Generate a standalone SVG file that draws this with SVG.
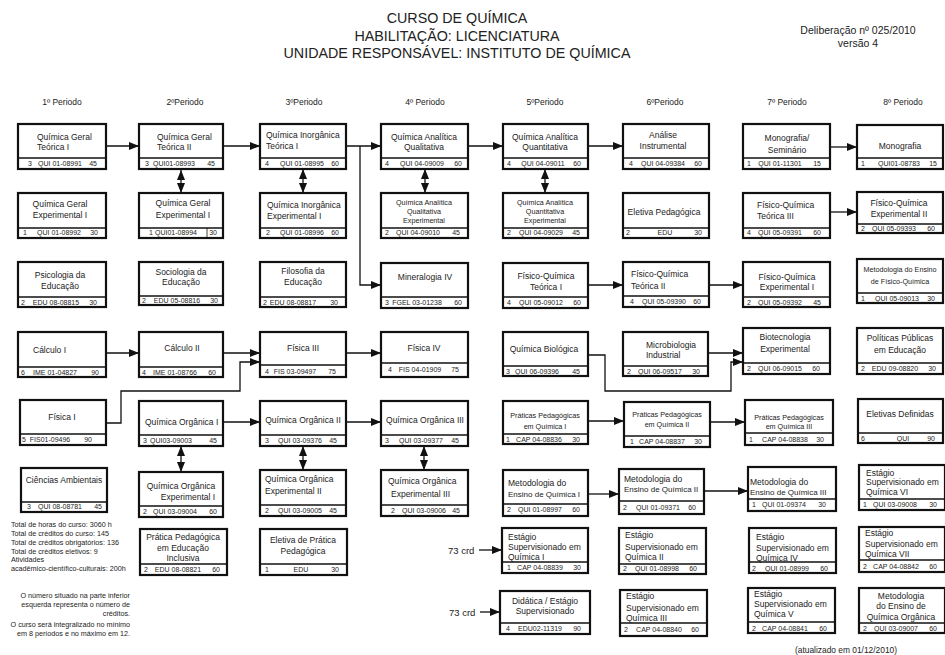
<svg xmlns="http://www.w3.org/2000/svg" width="945" height="655" viewBox="0 0 945 655">
<defs>
<style>
.bx{fill:#fff;stroke:#111;stroke-width:2.2}
.sp{stroke:#111;stroke-width:1.3}
text{font-family:"Liberation Sans",Arial,sans-serif;fill:#222}
.t{font-size:8.5px}
.n{font-size:8px}
.s{font-size:7.2px}
.c{font-size:7px}
.h{font-size:14.3px;text-anchor:middle}
.p{font-size:8.5px;text-anchor:middle}
.i{font-size:7.2px}
.m{text-anchor:middle}
.e{text-anchor:end}
.cn path{fill:none;stroke:#111;stroke-width:1.3}
</style>
<marker id="ah" viewBox="0 0 10 8" refX="10" refY="4" markerWidth="10" markerHeight="8" orient="auto-start-reverse" markerUnits="userSpaceOnUse"><path d="M0,0 L10,4 L0,8 z" fill="#111"/></marker>
</defs>
<rect width="945" height="655" fill="#fff"/>

<g id="header">
<text class="h" x="457" y="23">CURSO DE QUÍMICA</text>
<text class="h" x="457" y="41">HABILITAÇÃO: LICENCIATURA</text>
<text class="h" x="457" y="58">UNIDADE RESPONSÁVEL: INSTITUTO DE QUÍMICA</text>
<text x="858" y="34" style="font-size:10.5px" class="m">Deliberação nº 025/2010</text>
<text x="858" y="47" style="font-size:10.5px" class="m">versão 4</text>
</g>

<g id="periods">
<text class="p" x="62" y="105">1º Periodo</text>
<text class="p" x="185" y="105">2ºPeriodo</text>
<text class="p" x="304" y="105">3ºPeriodo</text>
<text class="p" x="425" y="105">4º Periodo</text>
<text class="p" x="545" y="105">5ºPeriodo</text>
<text class="p" x="665" y="105">6ºPeriodo</text>
<text class="p" x="787" y="105">7º Periodo</text>
<text class="p" x="903" y="105">8º Periodo</text>
</g>

<g id="connectors" class="cn">
<path d="M106,146 H139" marker-end="url(#ah)"/>
<path d="M223,146 H260" marker-end="url(#ah)"/>
<path d="M181,170 V193" marker-start="url(#ah)" marker-end="url(#ah)"/>
<path d="M346,146 H381" marker-end="url(#ah)"/>
<path d="M360,146 V285 H381" marker-end="url(#ah)"/>
<path d="M303,169 V193" marker-start="url(#ah)" marker-end="url(#ah)"/>
<path d="M468,146 H503" marker-end="url(#ah)"/>
<path d="M425,169 V193" marker-start="url(#ah)" marker-end="url(#ah)"/>
<path d="M588,146 H623" marker-end="url(#ah)"/>
<path d="M545,169 V193" marker-start="url(#ah)" marker-end="url(#ah)"/>
<path d="M830,147 H857" marker-end="url(#ah)"/>
<path d="M830,212 H857" marker-end="url(#ah)"/>
<path d="M588,285 H623" marker-end="url(#ah)"/>
<path d="M709,285 H743" marker-end="url(#ah)"/>
<path d="M106,353 H139" marker-end="url(#ah)"/>
<path d="M223,353 H260" marker-end="url(#ah)"/>
<path d="M106,423 H121 V391 H240 V362 H260" marker-end="url(#ah)"/>
<path d="M346,353 H381" marker-end="url(#ah)"/>
<path d="M223,422 H260" marker-end="url(#ah)"/>
<path d="M346,422 H381" marker-end="url(#ah)"/>
<path d="M181,446 V472" marker-start="url(#ah)" marker-end="url(#ah)"/>
<path d="M303,446 V470" marker-start="url(#ah)" marker-end="url(#ah)"/>
<path d="M424,446 V470" marker-start="url(#ah)" marker-end="url(#ah)"/>
<path d="M708,353 H743" marker-end="url(#ah)"/>
<path d="M588,355 H605 V391 H731 V362 H743" marker-end="url(#ah)"/>
<path d="M588,421 H624" marker-end="url(#ah)"/>
<path d="M710,422 H745" marker-end="url(#ah)"/>
<path d="M588,494 H619" marker-end="url(#ah)"/>
<path d="M704,491 H748" marker-end="url(#ah)"/>
<path d="M479,550 H502" marker-end="url(#ah)"/>
<path d="M480,612 H500" marker-end="url(#ah)"/>
</g>

<!-- Column 1 -->
<g id="qgt1"><rect class="bx" x="18" y="124" width="88" height="45"/><line class="sp" x1="18" y1="158" x2="106" y2="158"/>
<text class="t" x="37" y="140">Química Geral</text><text class="t" x="37" y="150">Teórica I</text>
<text class="c" x="28" y="165.5">3</text><text class="c m" x="60" y="165.5">QUI 01-08991</text><text class="c e" x="97" y="165.5">45</text></g>
<g id="qge1"><rect class="bx" x="18" y="193" width="88" height="45"/><line class="sp" x1="18" y1="228" x2="106" y2="228"/>
<text class="t m" x="60" y="207">Química Geral</text><text class="t m" x="60" y="218">Experimental I</text>
<text class="c" x="23" y="234.5">1</text><text class="c m" x="59" y="234.5">QUI 01-08992</text><text class="c e" x="98" y="234.5">30</text></g>
<g id="psico"><rect class="bx" x="18" y="262" width="88" height="45"/><line class="sp" x1="18" y1="297" x2="106" y2="297"/>
<text class="t m" x="60" y="278">Psicologia da</text><text class="t m" x="60" y="289">Educação</text>
<text class="c" x="21" y="304.5">2</text><text class="c m" x="56" y="304.5">EDU 08-08815</text><text class="c e" x="97" y="304.5">30</text></g>
<g id="calc1"><rect class="bx" x="18" y="332" width="88" height="45"/><line class="sp" x1="18" y1="367" x2="106" y2="367"/>
<text class="t" x="33" y="353">Cálculo I</text>
<text class="c" x="21" y="374.5">6</text><text class="c m" x="55" y="374.5">IME 01-04827</text><text class="c e" x="99" y="374.5">90</text></g>
<g id="fis1"><rect class="bx" x="20" y="400" width="86" height="45"/><line class="sp" x1="20" y1="434" x2="106" y2="434"/>
<text class="t m" x="62" y="420">Física I</text>
<text class="c" x="22" y="442">5</text><text class="c m" x="50" y="442">FIS01-09496</text><text class="c e" x="92" y="442">90</text></g>
<g id="camb"><rect class="bx" x="21" y="468" width="86" height="44"/><line class="sp" x1="21" y1="502" x2="107" y2="502"/>
<text class="t m" x="64" y="483">Ciências Ambientais</text>
<text class="c" x="27" y="509">3</text><text class="c m" x="60" y="509">QUI 08-08781</text><text class="c e" x="102" y="509">45</text></g>

<!-- Column 2 -->
<g id="qgt2"><rect class="bx" x="139" y="124" width="84" height="45"/><line class="sp" x1="139" y1="158" x2="223" y2="158"/>
<text class="t" x="157" y="140">Química Geral</text><text class="t" x="157" y="150">Teórica II</text>
<text class="c" x="145" y="165.5">3</text><text class="c m" x="174" y="165.5">QUI01-08993</text><text class="c e" x="215" y="165.5">45</text></g>
<g id="qge2"><rect class="bx" x="139" y="193" width="84" height="45"/><line class="sp" x1="139" y1="228" x2="223" y2="228"/>
<text class="t m" x="183" y="206">Química Geral</text><text class="t m" x="183" y="218">Experimental  I</text>
<text class="c" x="149" y="234.5">1</text><text class="c m" x="176" y="234.5">QUI01-08994</text><line class="sp" x1="207" y1="228" x2="207" y2="238" style="stroke-width:0.8"/><text class="c e" x="217" y="234.5">30</text></g>
<g id="socio"><rect class="bx" x="139" y="262" width="84" height="43"/><line class="sp" x1="139" y1="296" x2="223" y2="296"/>
<text class="t m" x="181" y="275">Sociologia da</text><text class="t m" x="181" y="285">Educação</text>
<text class="c" x="142" y="303">2</text><text class="c m" x="177" y="303">EDU 05-08816</text><text class="c e" x="218" y="303">30</text></g>
<g id="calc2"><rect class="bx" x="139" y="332" width="84" height="45"/><line class="sp" x1="139" y1="367" x2="223" y2="367"/>
<text class="t m" x="182" y="351">Cálculo II</text>
<text class="c" x="142" y="374.5">4</text><text class="c m" x="175" y="374.5">IME 01-08766</text><text class="c e" x="216" y="374.5">60</text></g>
<g id="qo1"><rect class="bx" x="139" y="401" width="84" height="45"/><line class="sp" x1="139" y1="435" x2="223" y2="435"/>
<text class="t" x="145" y="425">Química Orgânica</text><text class="t" x="216" y="425">I</text>
<text class="c" x="143" y="442.5">3</text><text class="c m" x="171" y="442.5">QUI03-09003</text><text class="c e" x="217" y="442.5">45</text></g>
<g id="qoe1"><rect class="bx" x="139" y="472" width="84" height="45"/><line class="sp" x1="139" y1="506" x2="223" y2="506"/>
<text class="t m" x="181" y="489">Química Orgânica</text><text class="t m" x="188" y="500">Experimental I</text>
<text class="c" x="143" y="513.5">2</text><text class="c m" x="175" y="513.5">QUI 03-09004</text><text class="c e" x="217" y="513.5">60</text></g>
<g id="ppei"><rect class="bx" x="140" y="529" width="87" height="46"/><line class="sp" x1="140" y1="564" x2="227" y2="564"/>
<text class="t m" x="183" y="540">Prática Pedagógica</text><text class="t m" x="183" y="551">em Educação</text><text class="t m" x="183" y="561">Inclusiva</text>
<text class="c" x="144" y="572">2</text><text class="c m" x="178" y="572">EDU 08-08821</text><text class="c e" x="220" y="572">60</text></g>

<!-- Column 3 -->
<g id="qit1"><rect class="bx" x="260" y="124" width="86" height="45"/><line class="sp" x1="260" y1="158" x2="346" y2="158"/>
<text class="t" x="266" y="138">Química Inorgânica</text><text class="t" x="266" y="149">Teórica I</text>
<text class="c" x="265" y="165.5">4</text><text class="c m" x="302" y="165.5">QUI 01-08995</text><text class="c e" x="339" y="165.5">60</text></g>
<g id="qie1"><rect class="bx" x="260" y="193" width="86" height="45"/><line class="sp" x1="260" y1="228" x2="346" y2="228"/>
<text class="t" x="267" y="208">Química Inorgânica</text><text class="t" x="267" y="219">Experimental I</text>
<text class="c" x="266" y="234.5">2</text><text class="c m" x="302" y="234.5">QUI 01-08996</text><text class="c e" x="339" y="234.5">60</text></g>
<g id="filo"><rect class="bx" x="260" y="262" width="86" height="45"/><line class="sp" x1="260" y1="297" x2="346" y2="297"/>
<text class="t m" x="303" y="274">Filosofia da</text><text class="t m" x="303" y="285">Educação</text>
<text class="c" x="263" y="304.5">2</text><text class="c m" x="293" y="304.5">EDU 08-08817</text><text class="c e" x="338" y="304.5">30</text></g>
<g id="fis3"><rect class="bx" x="260" y="332" width="86" height="45"/><line class="sp" x1="260" y1="365" x2="346" y2="365"/>
<text class="t m" x="303" y="351">Física III</text>
<text class="c" x="265" y="373.5">4</text><text class="c m" x="295" y="373.5">FIS 03-09497</text><text class="c e" x="336" y="373.5">75</text></g>
<g id="qo2"><rect class="bx" x="260" y="401" width="86" height="45"/><line class="sp" x1="260" y1="435" x2="346" y2="435"/>
<text class="t m" x="303" y="423">Química Orgânica II</text>
<text class="c" x="265" y="442.5">3</text><text class="c m" x="300" y="442.5">QUI 03-09376</text><text class="c e" x="337" y="442.5">45</text></g>
<g id="qoe2"><rect class="bx" x="260" y="470" width="86" height="46"/><line class="sp" x1="260" y1="505" x2="346" y2="505"/>
<text class="t" x="265" y="482">Química Orgânica</text><text class="t" x="265" y="494">Experimental II</text>
<text class="c" x="265" y="512.5">2</text><text class="c m" x="300" y="512.5">QUI 03-09005</text><text class="c e" x="337" y="512.5">45</text></g>
<g id="eletpp"><rect class="bx" x="260" y="529" width="87" height="46"/><line class="sp" x1="260" y1="564" x2="347" y2="564"/>
<text class="t m" x="303" y="543">Eletiva de Prática</text><text class="t m" x="303" y="554">Pedagógica</text>
<text class="c" x="265" y="572">1</text><text class="c m" x="301" y="572">EDU</text><text class="c e" x="339" y="572">30</text></g>

<!-- Column 4 -->
<g id="qaq"><rect class="bx" x="381" y="124" width="87" height="45"/><line class="sp" x1="381" y1="158" x2="468" y2="158"/>
<text class="t m" x="424" y="140">Química Analítica</text><text class="t m" x="424" y="150">Qualitativa</text>
<text class="c" x="385" y="165.5">4</text><text class="c m" x="422" y="165.5">QUI 04-09009</text><text class="c e" x="462" y="165.5">60</text></g>
<g id="qaqe"><rect class="bx" x="381" y="193" width="87" height="45"/><line class="sp" x1="381" y1="228" x2="468" y2="228"/>
<text class="s m" x="424" y="205">Química Analítica</text><text class="s m" x="424" y="214">Qualitativa</text><text class="s m" x="424" y="223">Experimental</text>
<text class="c" x="385" y="234.5">2</text><text class="c m" x="418" y="234.5">QUI 04-09010</text><text class="c e" x="460" y="234.5">45</text></g>
<g id="miner"><rect class="bx" x="381" y="263" width="87" height="45"/><line class="sp" x1="381" y1="297" x2="468" y2="297"/>
<text class="t m" x="425" y="280">Mineralogia IV</text>
<text class="c" x="385" y="304.5">3</text><text class="c m" x="417" y="304.5">FGEL 03-01238</text><text class="c e" x="462" y="304.5">60</text></g>
<g id="fis4"><rect class="bx" x="381" y="332" width="87" height="45"/><line class="sp" x1="381" y1="363" x2="468" y2="363"/>
<text class="t m" x="424" y="351">Física IV</text>
<text class="c" x="388" y="372">4</text><text class="c m" x="420" y="372">FIS 04-01909</text><text class="c e" x="459" y="372">75</text></g>
<g id="qo3"><rect class="bx" x="381" y="401" width="87" height="45"/><line class="sp" x1="381" y1="435" x2="468" y2="435"/>
<text class="t m" x="425" y="423">Química Orgânica III</text>
<text class="c" x="385" y="442.5">3</text><text class="c m" x="421" y="442.5">QUI 03-09377</text><text class="c e" x="459" y="442.5">45</text></g>
<g id="qoe3"><rect class="bx" x="381" y="470" width="87" height="46"/><line class="sp" x1="381" y1="505" x2="468" y2="505"/>
<text class="t" x="388" y="484">Química Orgânica</text><text class="t" x="391" y="497">Experimental   III</text>
<text class="c" x="391" y="512.5">2</text><text class="c m" x="424" y="512.5">QUI 03-09006</text><text class="c e" x="460" y="512.5">45</text></g>

<!-- Column 5 -->
<g id="qaquant"><rect class="bx" x="503" y="124" width="85" height="45"/><line class="sp" x1="503" y1="158" x2="588" y2="158"/>
<text class="t m" x="545" y="140">Química Analítica</text><text class="t m" x="545" y="150">Quantitativa</text>
<text class="c" x="507" y="165.5">4</text><text class="c m" x="543" y="165.5">QUI 04-09011</text><text class="c e" x="581" y="165.5">60</text></g>
<g id="qaquante"><rect class="bx" x="503" y="193" width="85" height="45"/><line class="sp" x1="503" y1="228" x2="588" y2="228"/>
<text class="s m" x="545" y="204.5">Química Analítica</text><text class="s m" x="545" y="213.5">Quantitativa</text><text class="s m" x="545" y="222.5">Experimental</text>
<text class="c" x="507" y="234.5">2</text><text class="c m" x="541" y="234.5">QUI 04-09029</text><text class="c e" x="580" y="234.5">45</text></g>
<g id="fq1"><rect class="bx" x="503" y="263" width="85" height="45"/><line class="sp" x1="503" y1="297" x2="588" y2="297"/>
<text class="t m" x="546" y="279">Físico-Química</text><text class="t m" x="546" y="290">Teórica I</text>
<text class="c" x="507" y="304.5">4</text><text class="c m" x="541" y="304.5">QUI 05-09012</text><text class="c e" x="581" y="304.5">60</text></g>
<g id="qbio"><rect class="bx" x="503" y="332" width="85" height="44"/><line class="sp" x1="503" y1="366" x2="588" y2="366"/>
<text class="t m" x="544" y="352">Química Biológica</text>
<text class="c" x="506" y="373.5">3</text><text class="c m" x="537" y="373.5">QUI 06-09396</text><text class="c e" x="580" y="373.5">45</text></g>
<g id="pp1"><rect class="bx" x="503" y="401" width="85" height="43"/><line class="sp" x1="503" y1="434" x2="588" y2="434"/>
<text class="s m" x="545" y="417.5">Práticas Pedagógicas</text><text class="s m" x="545" y="428.5">em Química I</text>
<text class="c" x="506" y="441.5">1</text><text class="c m" x="539" y="441.5">CAP 04-08836</text><text class="c e" x="580" y="441.5">30</text></g>
<g id="met1"><rect class="bx" x="503" y="470" width="85" height="46"/><line class="sp" x1="503" y1="504" x2="588" y2="504"/>
<text class="t" x="508" y="486">Metodologia do</text><text class="n" x="508" y="497">Ensino de Química I</text>
<text class="c" x="507" y="512">2</text><text class="c m" x="540" y="512">QUI 01-08997</text><text class="c e" x="580" y="512">60</text></g>
<g id="est1"><rect class="bx" x="502" y="528" width="86" height="45"/><line class="sp" x1="502" y1="562" x2="588" y2="562"/>
<text class="t" x="508" y="540">Estágio</text><text class="t" x="508" y="550">Supervisionado em</text><text class="t" x="508" y="560">Química I</text>
<text class="c" x="507" y="570">1</text><text class="c m" x="540" y="570">CAP 04-08839</text><text class="c e" x="581" y="570">30</text></g>
<g id="didat"><rect class="bx" x="500" y="591" width="90" height="43"/><line class="sp" x1="500" y1="623" x2="590" y2="623"/>
<text class="t m" x="545" y="604">Didática / Estágio</text><text class="t m" x="545" y="614">Supervisionado</text>
<text class="c" x="506" y="631">4</text><text class="c m" x="540" y="631">EDU02-11319</text><text class="c e" x="581" y="631">90</text></g>

<!-- Column 6 -->
<g id="anins"><rect class="bx" x="623" y="124" width="86" height="45"/><line class="sp" x1="623" y1="158" x2="709" y2="158"/>
<text class="t m" x="663" y="138">Análise</text><text class="t m" x="663" y="149">Instrumental</text>
<text class="c" x="629" y="165.5">4</text><text class="c m" x="663" y="165.5">QUI 04-09384</text><text class="c e" x="702" y="165.5">60</text></g>
<g id="eletped"><rect class="bx" x="623" y="193" width="86" height="45"/><line class="sp" x1="623" y1="228" x2="709" y2="228"/>
<text class="t m" x="664" y="215">Eletiva Pedagógica</text>
<text class="c" x="626" y="234.5">2</text><text class="c m" x="665" y="234.5">EDU</text><text class="c e" x="702" y="234.5">30</text></g>
<g id="fq2"><rect class="bx" x="623" y="262" width="86" height="45"/><line class="sp" x1="623" y1="296" x2="709" y2="296"/>
<text class="t" x="631" y="277">Físico-Química</text><text class="t" x="631" y="289">Teórica II</text>
<text class="c" x="630" y="303.5">4</text><text class="c m" x="664" y="303.5">QUI 05-09390</text><text class="c e" x="701" y="303.5">60</text></g>
<g id="microb"><rect class="bx" x="623" y="332" width="85" height="44"/><line class="sp" x1="623" y1="366" x2="708" y2="366"/>
<text class="t" x="646" y="348">Microbiologia</text><text class="t" x="646" y="358">Industrial</text>
<text class="c" x="627" y="373.5">2</text><text class="c m" x="660" y="373.5">QUI 06-09517</text><text class="c e" x="700" y="373.5">30</text></g>
<g id="pp2"><rect class="bx" x="624" y="402" width="86" height="45"/><line class="sp" x1="624" y1="436" x2="710" y2="436"/>
<text class="s m" x="667" y="417">Práticas Pedagógicas</text><text class="s m" x="667" y="427">em Química II</text>
<text class="c" x="630" y="443.5">1</text><text class="c m" x="662" y="443.5">CAP 04-08837</text><text class="c e" x="702" y="443.5">30</text></g>
<g id="met2"><rect class="bx" x="619" y="469" width="85" height="45"/><line class="sp" x1="619" y1="501" x2="704" y2="501"/>
<text class="t" x="624" y="482">Metodologia do</text><text class="n" x="624" y="492">Ensino de Química II</text>
<text class="c" x="623" y="509.5">2</text><text class="c m" x="658" y="509.5">QUI 01-09371</text><text class="c e" x="696" y="509.5">60</text></g>
<g id="est2"><rect class="bx" x="619" y="528" width="87" height="46"/><line class="sp" x1="619" y1="564" x2="706" y2="564"/>
<text class="t" x="625" y="538">Estágio</text><text class="t" x="625" y="550">Supervisionado em</text><text class="t" x="625" y="560">Química II</text>
<text class="c" x="623" y="571">2</text><text class="c m" x="657" y="571">QUI 01-08998</text><text class="c e" x="697" y="571">60</text></g>
<g id="est3"><rect class="bx" x="620" y="590" width="87" height="46"/><line class="sp" x1="620" y1="623" x2="707" y2="623"/>
<text class="t" x="626" y="599">Estágio</text><text class="t" x="626" y="611">Supervisionado em</text><text class="t" x="626" y="621">Química III</text>
<text class="c" x="624" y="632">2</text><text class="c m" x="659" y="632">CAP 04-08840</text><text class="c e" x="699" y="632">60</text></g>

<!-- Column 7 -->
<g id="monsem"><rect class="bx" x="743" y="124" width="87" height="45"/><line class="sp" x1="743" y1="158" x2="830" y2="158"/>
<text class="t m" x="787" y="141">Monografia/</text><text class="t m" x="787" y="153">Seminário</text>
<text class="c" x="747" y="165.5">1</text><text class="c m" x="780" y="165.5">QUI 01-11301</text><text class="c e" x="821" y="165.5">15</text></g>
<g id="fq3"><rect class="bx" x="743" y="193" width="87" height="45"/><line class="sp" x1="743" y1="228" x2="830" y2="228"/>
<text class="t" x="757" y="208">Físico-Química</text><text class="t" x="757" y="219">Teórica III</text>
<text class="c" x="747" y="234.5">4</text><text class="c m" x="780" y="234.5">QUI 05-09391</text><text class="c e" x="821" y="234.5">60</text></g>
<g id="fqe1"><rect class="bx" x="743" y="262" width="87" height="45"/><line class="sp" x1="743" y1="297" x2="830" y2="297"/>
<text class="t m" x="787" y="280">Físico-Química</text><text class="t m" x="787" y="290">Experimental I</text>
<text class="c" x="747" y="304.5">2</text><text class="c m" x="780" y="304.5">QUI 05-09392</text><text class="c e" x="821" y="304.5">45</text></g>
<g id="biotec"><rect class="bx" x="743" y="328" width="87" height="46"/><line class="sp" x1="743" y1="363" x2="830" y2="363"/>
<text class="t m" x="785" y="340">Biotecnologia</text><text class="t m" x="785" y="352">Experimental</text>
<text class="c" x="747" y="371">2</text><text class="c m" x="780" y="371">QUI 06-09015</text><text class="c e" x="820" y="371">60</text></g>
<g id="pp3"><rect class="bx" x="745" y="400" width="88" height="45"/><line class="sp" x1="745" y1="433" x2="833" y2="433"/>
<text class="s m" x="789" y="420">Práticas Pedagógicas</text><text class="s m" x="789" y="429">em Química III</text>
<text class="c" x="749" y="441.5">1</text><text class="c m" x="785" y="441.5">CAP 04-08838</text><text class="c e" x="824" y="441.5">30</text></g>
<g id="met3"><rect class="bx" x="748" y="467" width="88" height="44"/><line class="sp" x1="748" y1="499" x2="836" y2="499"/>
<text class="t" x="750" y="485">Metodologia do</text><text class="n" x="750" y="495">Ensino de Química III</text>
<text class="c" x="752" y="506.5">1</text><text class="c m" x="784" y="506.5">QUI 01-09374</text><text class="c e" x="826" y="506.5">30</text></g>
<g id="est4"><rect class="bx" x="749" y="528" width="87" height="45"/><line class="sp" x1="749" y1="562" x2="836" y2="562"/>
<text class="t" x="756" y="540">Estágio</text><text class="t" x="756" y="551">Supervisionado em</text><text class="t" x="756" y="561">Química IV</text>
<text class="c" x="752" y="570.5">2</text><text class="c m" x="787" y="570.5">QUI 01-08999</text><text class="c e" x="828" y="570.5">60</text></g>
<g id="est5"><rect class="bx" x="748" y="588" width="87" height="45"/><line class="sp" x1="748" y1="622" x2="835" y2="622"/>
<text class="t" x="754" y="597">Estágio</text><text class="t" x="754" y="607">Supervisionado em</text><text class="t" x="754" y="617">Química V</text>
<text class="c" x="752" y="630.5">2</text><text class="c m" x="785" y="630.5">CAP 04-08841</text><text class="c e" x="827" y="630.5">60</text></g>

<!-- Column 8 -->
<g id="mono"><rect class="bx" x="857" y="125" width="86" height="44"/><line class="sp" x1="857" y1="158" x2="943" y2="158"/>
<text class="t m" x="900" y="149">Monografia</text>
<text class="c" x="861" y="165.5">1</text><text class="c m" x="899" y="165.5">QUI01-08783</text><text class="c e" x="937" y="165.5">15</text></g>
<g id="fqe2"><rect class="bx" x="857" y="192" width="86" height="41"/><line class="sp" x1="857" y1="224" x2="943" y2="224"/>
<text class="t m" x="899" y="206">Físico-Química</text><text class="t m" x="899" y="217">Experimental II</text>
<text class="c" x="861" y="231">2</text><text class="c m" x="894" y="231">QUI 05-09393</text><text class="c e" x="935" y="231">60</text></g>
<g id="metfq"><rect class="bx" x="857" y="259" width="86" height="44"/><line class="sp" x1="857" y1="293" x2="943" y2="293"/>
<text class="s m" x="900" y="272">Metodologia do Ensino</text><text class="s m" x="900" y="284">de Físico-Química</text>
<text class="c" x="861" y="300.5">1</text><text class="c m" x="897" y="300.5">QUI 05-09013</text><text class="c e" x="935" y="300.5">30</text></g>
<g id="polpub"><rect class="bx" x="857" y="328" width="86" height="46"/><line class="sp" x1="857" y1="363" x2="943" y2="363"/>
<text class="t m" x="900" y="341">Políticas Públicas</text><text class="t m" x="900" y="353">em Educação</text>
<text class="c" x="861" y="371">2</text><text class="c m" x="895" y="371">EDU 09-08820</text><text class="c e" x="936" y="371">30</text></g>
<g id="eletdef"><rect class="bx" x="858" y="399" width="85" height="44"/><line class="sp" x1="858" y1="433" x2="943" y2="433"/>
<text class="t m" x="900" y="417">Eletivas Definidas</text>
<text class="c" x="861" y="440.5">6</text><text class="c m" x="903" y="440.5">QUI</text><text class="c e" x="935" y="440.5">90</text></g>
<g id="est6"><rect class="bx" x="859" y="465" width="86" height="45"/><line class="sp" x1="859" y1="499" x2="945" y2="499"/>
<text class="t" x="866" y="476">Estágio</text><text class="t" x="866" y="485">Supervisionado em</text><text class="t" x="866" y="495">Química VI</text>
<text class="c" x="863" y="506.5">1</text><text class="c m" x="895" y="506.5">QUI 03-09008</text><text class="c e" x="937" y="506.5">30</text></g>
<g id="est7"><rect class="bx" x="859" y="527" width="86" height="45"/><line class="sp" x1="859" y1="560" x2="945" y2="560"/>
<text class="t" x="865" y="536">Estágio</text><text class="t" x="865" y="547">Supervisionado em</text><text class="t" x="865" y="557">Química VII</text>
<text class="c" x="863" y="569">2</text><text class="c m" x="896" y="569">CAP 04-08842</text><text class="c e" x="937" y="569">60</text></g>
<g id="metorg"><rect class="bx" x="859" y="588" width="86" height="45"/><line class="sp" x1="859" y1="623" x2="945" y2="623"/>
<text class="t m" x="901" y="599">Metodologia</text><text class="t m" x="901" y="609">do Ensino de</text><text class="t m" x="901" y="620">Química Orgânica</text>
<text class="c" x="863" y="631">2</text><text class="c m" x="896" y="631">QUI 03-09007</text><text class="c e" x="937" y="631">60</text></g>

<g id="crd-labels">
<text x="448" y="553.5" style="font-size:9.5px">73 crd</text>
<text x="449" y="615.5" style="font-size:9.5px">73 crd</text>
</g>

<g id="notes">
<text class="i" x="11" y="526.5">Total de horas do curso: 3060 h</text>
<text class="i" x="11" y="535.5">Total de créditos do curso: 145</text>
<text class="i" x="11" y="544.5">Total de créditos obrigatórios: 136</text>
<text class="i" x="11" y="553.5">Total de créditos eletivos: 9</text>
<text class="i" x="11" y="562">Atividades</text>
<text class="i" x="11" y="570.5">acadêmico-científico-culturais: 200h</text>
<text class="i e" x="130" y="597.5">O número situado na parte inferior</text>
<text class="i e" x="130" y="606.5">esquerda representa o número de</text>
<text class="i e" x="130" y="615.5">créditos.</text>
<text class="i e" x="130" y="626.5">O curso será integralizado no mínimo</text>
<text class="i e" x="130" y="635.5">em 8 períodos e no máximo em 12.</text>
<text x="846" y="652.5" class="m" style="font-size:8.4px">(atualizado em 01/12/2010)</text>
</g>
</svg>
